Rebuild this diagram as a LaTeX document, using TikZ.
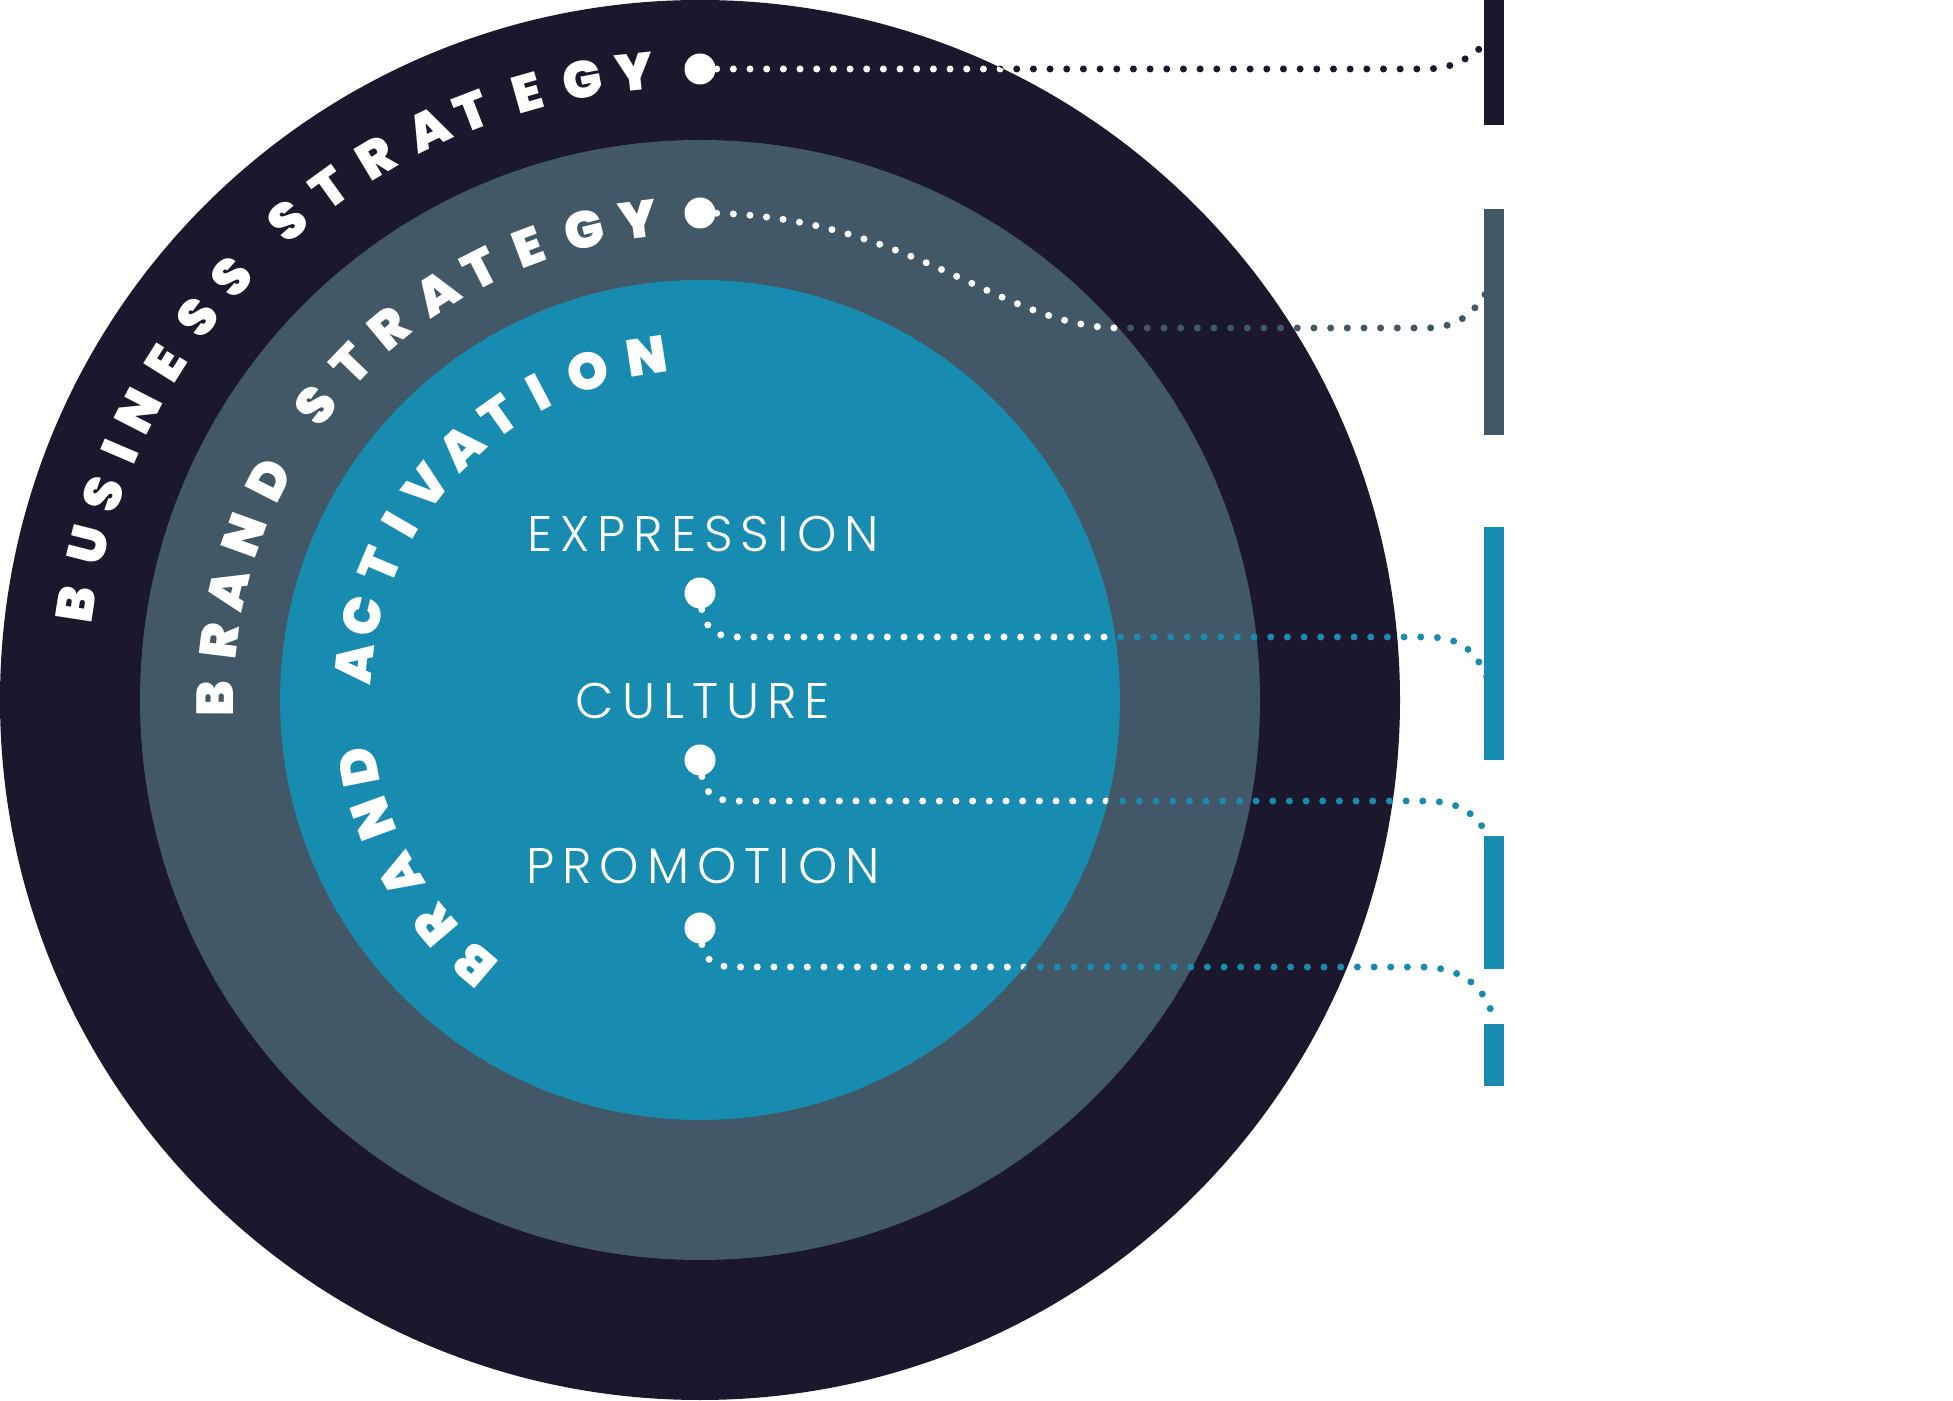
\documentclass[tikz,border=0pt]{standalone}
\usepackage{fontspec}
\newfontfamily\heavyfont{Poppins Black}
\newfontfamily\lightfont{Poppins Light}[LetterSpace=16]
\definecolor{navy}{RGB}{27,23,45}
\definecolor{slate}{RGB}{66,88,102}
\definecolor{ringblue}{RGB}{23,140,176}
\pgfdeclarelayer{bg}
\pgfdeclarelayer{conn}
\pgfsetlayers{bg,conn,main}
\newcommand\dotline[3]{%
  \draw[dots, #1] #3;
  \begin{scope}\clip (700,700) circle[radius=#2]; \draw[dots, white] #3; \end{scope}}
\begin{document}
\begin{tikzpicture}[x=1pt,y=1pt,
  ring/.style={circle, inner sep=0pt, outer sep=0pt},
  arcletter/.style={text=white, font=\heavyfont\fontsize{52}{52}\selectfont, anchor=base, inner sep=0pt},
  bigdot/.style={circle, fill=white, inner sep=0pt, minimum size=31pt},
  dots/.style={line width=7pt, line cap=round, dash pattern=on 0pt off 16.67pt},
  sidebar/.style={inner sep=0pt, outer sep=0pt, minimum width=20pt, anchor=south west},
  label/.style={text=white, font=\lightfont\fontsize{50}{50}\selectfont, anchor=base, inner sep=0pt}]
\useasboundingbox (0,0) rectangle (1953,1400);
\begin{pgfonlayer}{bg}
\node[ring, fill=navy, minimum size=1400pt] (outer) at (700,700) {};
\node[ring, fill=slate, minimum size=1120pt] (middle) at (700,700) {};
\node[ring, fill=ringblue, minimum size=840pt] (inner) at (700,700) {};
\end{pgfonlayer}
% curved titles
\begin{scope}[shift={(700,700)}]
\foreach \ch/\ang [count=\i] in {B/171.3,U/165.8,S/161,I/156.8,N/152.8,E/147.8,S/142.7,S/137.9,S/130.7,T/125.9,R/120.9,A/115.4,T/111.2,E/105.9,G/100.7,Y/96}
  \node[arcletter, rotate=\ang-90] (bs\i) at (\ang:613) {\ch};
\foreach \ch/\ang [count=\i] in {B/179.8,R/173,A/166.8,N/160.1,D/153,S/142.5,T/136.1,R/129.9,A/122.9,T/117,E/110.7,G/103.8,Y/97.3}
  \node[arcletter, rotate=\ang-90] (br\i) at (\ang:466) {\ch};
\foreach \ch/\ang [count=\i] in {B/229.6,R/220.4,A/210.4,N/200,D/191.1,A/174,C/166.1,T/157.2,I/149.8,V/142,A/133.4,T/125.3,I/117.7,O/108.8,N/98.8}
  \node[arcletter, rotate=\ang-90] (ba\i) at (\ang:329) {\ch};
\end{scope}
% labels
\node[label] (expr) at (703,848) {EXPRESSION};
\node[label] (cult) at (703,681) {CULTURE};
\node[label] (prom) at (703,516) {PROMOTION};
% big dots
\node[bigdot] (bsdot) at (700,1331) {};
\node[bigdot] (brdot) at (700,1187) {};
\node[bigdot] (exdot) at (700,807) {};
\node[bigdot] (cudot) at (700,640) {};
\node[bigdot] (prdot) at (700,472) {};
% connector ends
\coordinate (bsend) at (1490,1360);
\coordinate (brend) at (1488,1110);
\coordinate (exend) at (1488,720);
\coordinate (cuend) at (1492,555);
\coordinate (prend) at (1495,376);
\begin{pgfonlayer}{conn}
\dotline{navy}{700}{(bsdot.center) -- (1425,1331) .. controls (1460,1331) and (1475,1348) .. (bsend)}
\dotline{slate}{560}{(brdot.center) .. controls (910,1187) and (1000,1072) .. (1120,1072) -- (1425,1072) .. controls (1460,1072) and (1474,1088) .. (brend)}
\dotline{ringblue}{420}{(exdot.center) .. controls (701,775) and (712,763) .. (735,763) -- (1425,763) .. controls (1455,763) and (1474,755) .. (exend)}
\dotline{ringblue}{420}{(cudot.center) .. controls (701,608) and (712,599) .. (735,599) -- (1425,599) .. controls (1455,599) and (1478,590) .. (cuend)}
\dotline{ringblue}{420}{(prdot.center) .. controls (701,440) and (712,433) .. (735,433) -- (1420,433) .. controls (1455,433) and (1485,420) .. (prend)}
\end{pgfonlayer}
% side bars
\node[sidebar, fill=navy, minimum height=125pt] (bsbar) at (1484,1275) {};
\node[sidebar, fill=slate, minimum height=226pt] (brbar) at (1484,965) {};
\node[sidebar, fill=ringblue, minimum height=233pt] (exbar) at (1484,640) {};
\node[sidebar, fill=ringblue, minimum height=133pt] (cubar) at (1484,431) {};
\node[sidebar, fill=ringblue, minimum height=62pt] (prbar) at (1484,314) {};
\end{tikzpicture}
\end{document}
